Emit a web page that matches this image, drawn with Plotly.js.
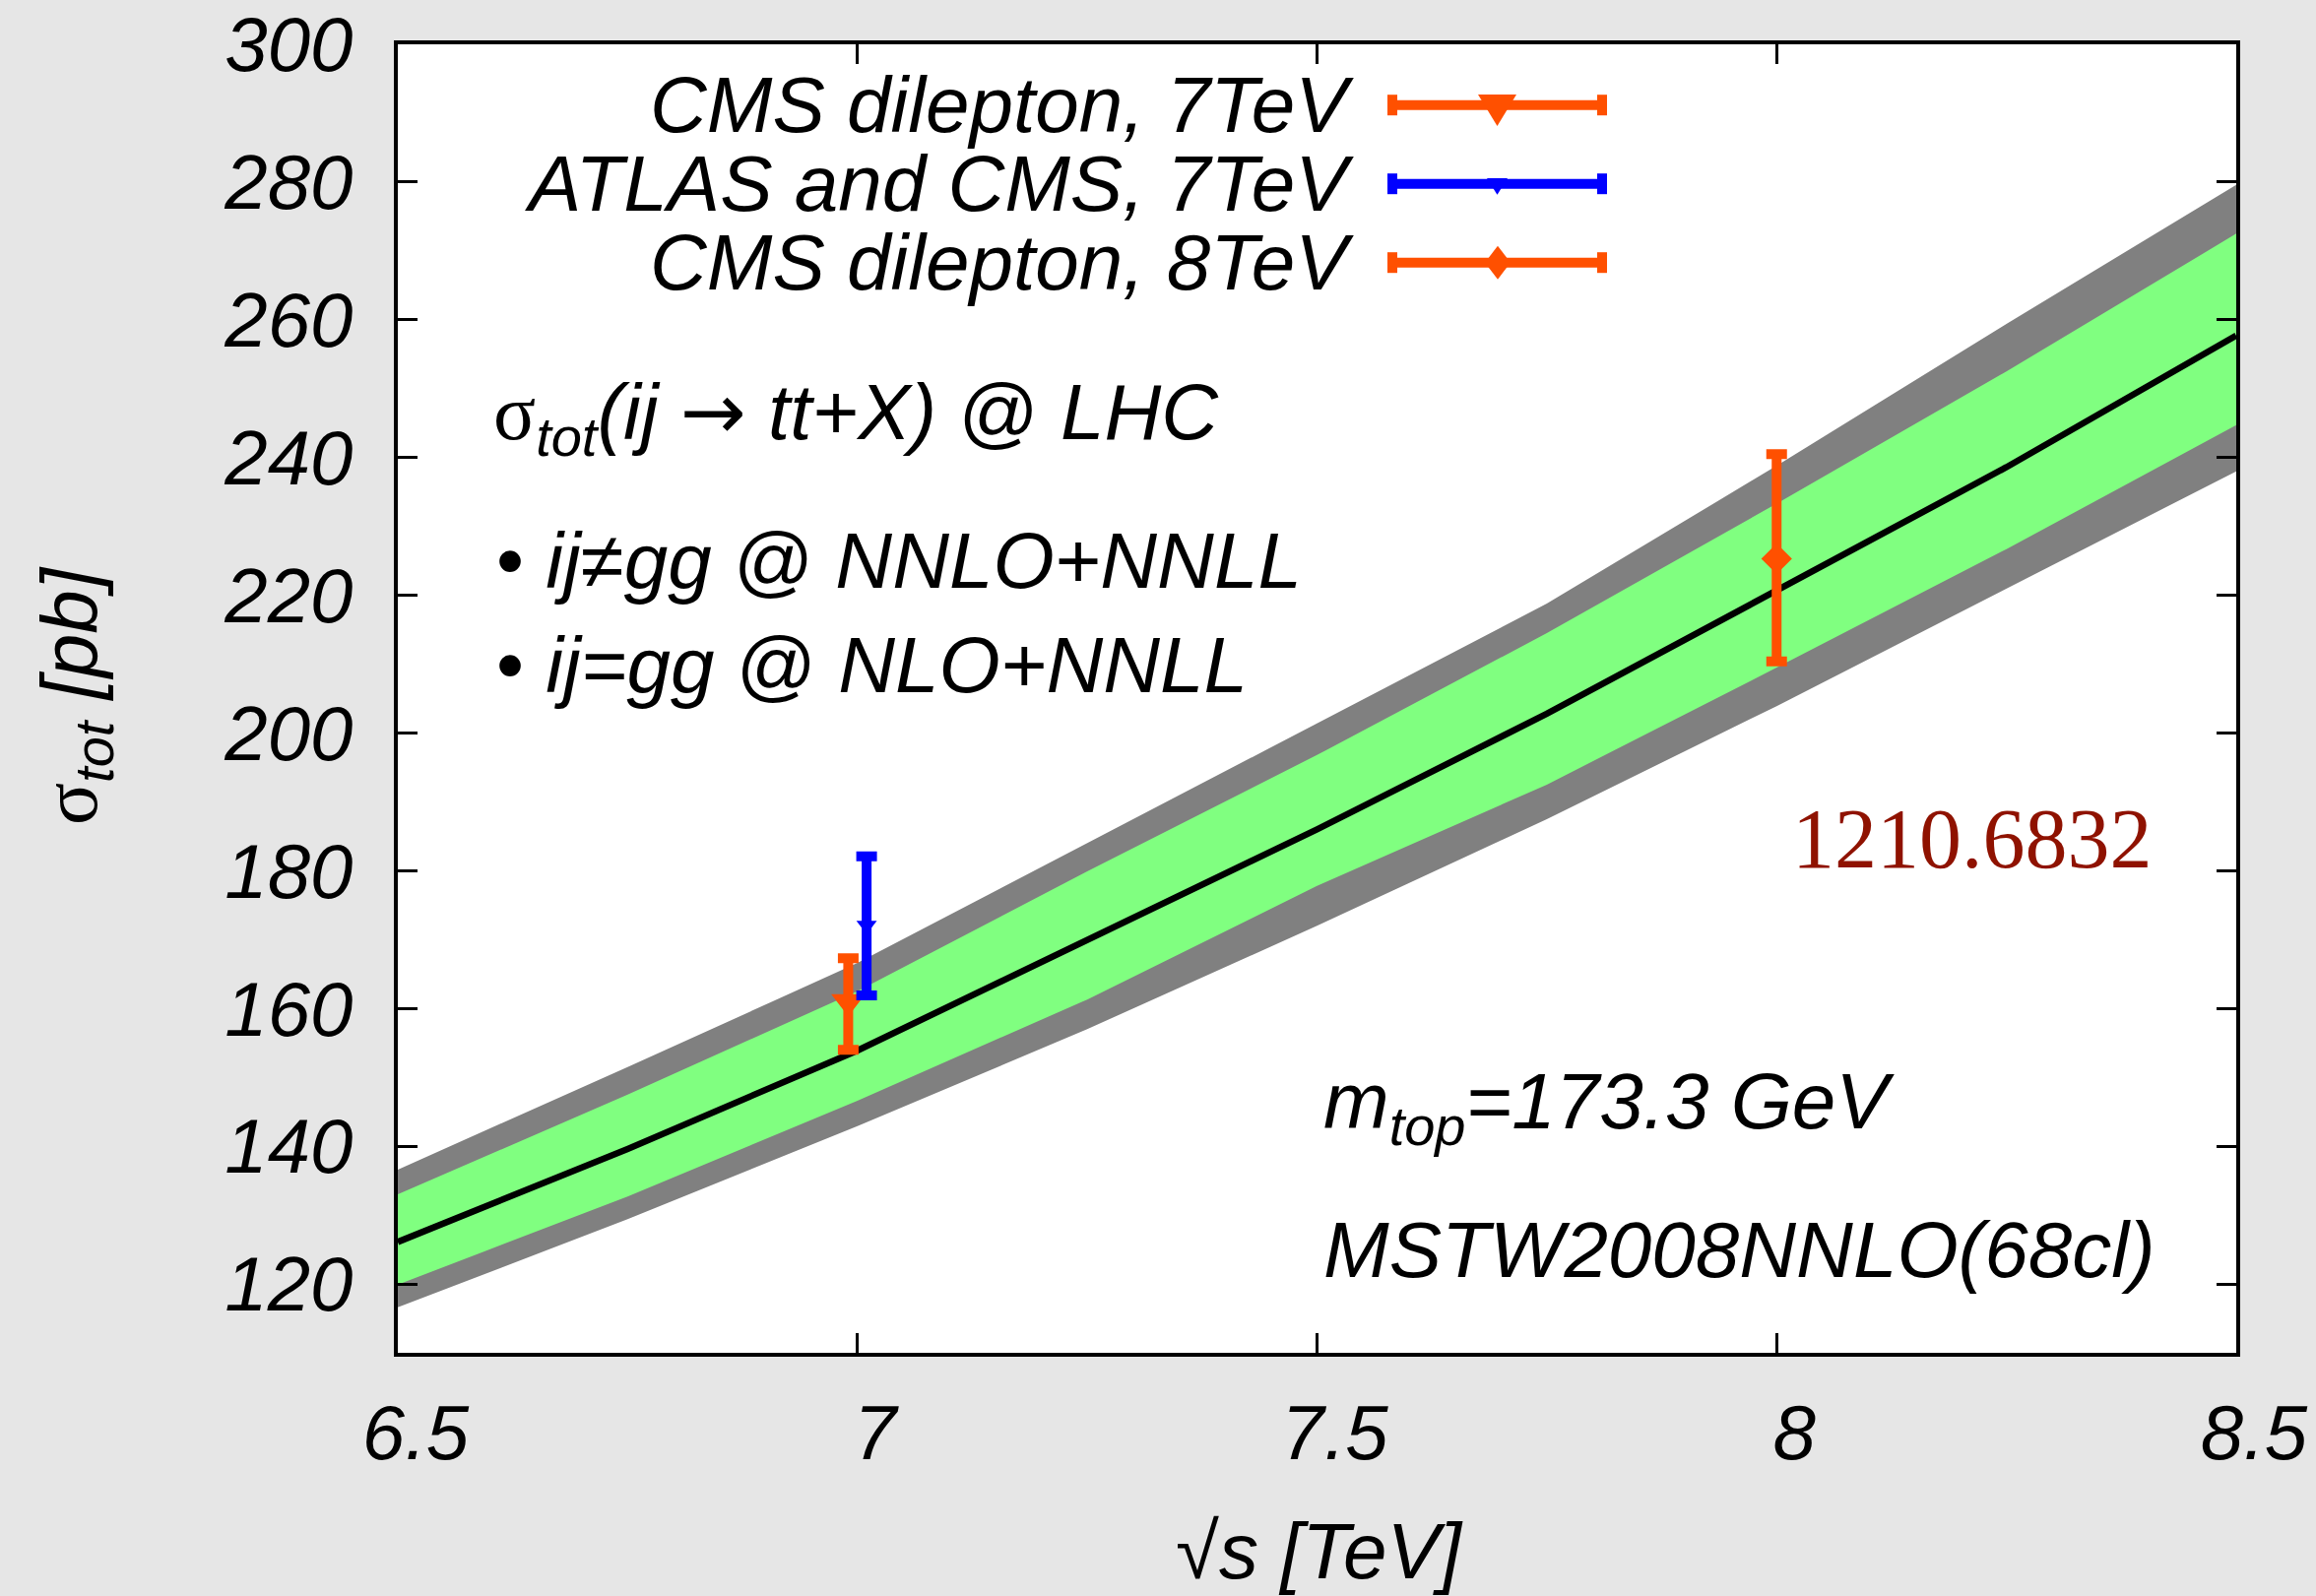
<!DOCTYPE html>
<html>
<head>
<meta charset="utf-8">
<script src="https://cdn.plot.ly/plotly-3.0.1.min.js"></script>
<style>html,body{margin:0;padding:0;background:#e6e6e6;}#chart{width:2352px;height:1621px;}</style>
</head>
<body>
<div id="chart"></div>
<script>
// ---- data ----
const sqrtS      = [6.5, 6.75, 7.0, 7.25, 7.5, 7.75, 8.0, 8.25, 8.5];
const central    = [126.1, 139.6, 153.9, 169.9, 186.0, 202.8, 220.8, 238.6, 257.7];
const greenUpper = [133.0, 147.5, 162.5, 179.9, 196.8, 214.5, 233.3, 252.5, 272.5];
const greenLower = [119.9, 132.7, 146.6, 161.3, 177.8, 192.5, 209.5, 226.7, 244.7];
const grayUpper  = [136.6, 151.5, 166.6, 184.0, 201.5, 218.8, 238.8, 259.4, 279.6];
const grayLower  = [116.6, 129.4, 142.9, 157.0, 172.0, 187.5, 203.9, 220.9, 238.0];

const measNames  = ['CMS dilepton, 7TeV', 'ATLAS and CMS, 7TeV', 'CMS dilepton, 8TeV'];
const measX      = [6.99, 7.01, 8.0];
const measY      = [161.0, 172.1, 225.3];
const measErrUp  = [6.3, 10.0, 15.2];
const measErrLo  = [7.0, 10.2, 14.9];

const xTickVals  = [6.5, 7, 7.5, 8, 8.5];
const xTickText  = ['6.5', '7', '7.5', '8', '8.5'];
const yTickVals  = [120, 140, 160, 180, 200, 220, 240, 260, 280, 300];

// ---- styling ----
const ORANGE = '#ff5000', BLUE = '#0000ff', GREEN = '#80ff80', GRAY = '#808080';
const FONT = 'Liberation Sans, Arial, Helvetica, sans-serif';
const SERIF = 'Liberation Serif, Times New Roman, serif';
const measColors  = [ORANGE, BLUE, ORANGE];
const measSymbols = ['triangle-down', 'triangle-down', 'diamond'];
const measSizes   = [30, 18, 24];

const L = 404, R = 2271, T = 45, B = 1374;
const W = R - L, H = B - T;
const px = x => (x - L) / W;
const py = y => (B - y) / H;

const traces = [
  {x: sqrtS, y: grayLower, mode: 'lines', line: {width: 0, color: GRAY}, hoverinfo: 'skip', showlegend: false},
  {x: sqrtS, y: grayUpper, mode: 'lines', line: {width: 0, color: GRAY}, fill: 'tonexty', fillcolor: GRAY, hoverinfo: 'skip', showlegend: false},
  {x: sqrtS, y: greenLower, mode: 'lines', line: {width: 0, color: GREEN}, hoverinfo: 'skip', showlegend: false},
  {x: sqrtS, y: greenUpper, mode: 'lines', line: {width: 0, color: GREEN}, fill: 'tonexty', fillcolor: GREEN, hoverinfo: 'skip', showlegend: false},
  {x: sqrtS, y: central, mode: 'lines', line: {width: 6.5, color: '#000000'}, showlegend: false}
];
[0, 2, 1].forEach(i => {
  traces.push({
    x: [measX[i]], y: [measY[i]], mode: 'markers', name: measNames[i], showlegend: false,
    marker: {symbol: measSymbols[i], size: measSizes[i], color: measColors[i], line: {width: 0}},
    error_y: {type: 'data', symmetric: false, array: [measErrUp[i]], arrayminus: [measErrLo[i]],
              color: measColors[i], thickness: 10, width: 10.5}
  });
});

// ---- hand-made key (text left of sample, as in the original) ----
const legendRowsY = [106.7, 186.7, 266.7];
const shapes = [];
const annotations = [];
legendRowsY.forEach((yc, i) => {
  const c = measColors[i];
  shapes.push({type: 'line', xref: 'paper', yref: 'paper', x0: px(1414), x1: px(1627), y0: py(yc), y1: py(yc), line: {color: c, width: 10}});
  shapes.push({type: 'rect', xref: 'paper', yref: 'paper', x0: px(1409), x1: px(1419), y0: py(yc - 10.5), y1: py(yc + 10.5), fillcolor: c, line: {width: 0}});
  shapes.push({type: 'rect', xref: 'paper', yref: 'paper', x0: px(1622), x1: px(1632), y0: py(yc - 10.5), y1: py(yc + 10.5), fillcolor: c, line: {width: 0}});
  let path;
  if (i === 0) path = `M${px(1501)},${py(yc - 10.7)} L${px(1540)},${py(yc - 10.7)} L${px(1520.5)},${py(yc + 21.3)} Z`;
  else if (i === 1) path = `M${px(1510)},${py(yc - 5.7)} L${px(1531)},${py(yc - 5.7)} L${px(1520.5)},${py(yc + 11)} Z`;
  else path = `M${px(1508)},${py(yc)} L${px(1521)},${py(yc - 17)} L${px(1534)},${py(yc)} L${px(1521)},${py(yc + 17)} Z`;
  shapes.push({type: 'path', xref: 'paper', yref: 'paper', path: path, fillcolor: c, line: {width: 0}});
  annotations.push({xref: 'paper', yref: 'paper', x: px(1377), y: py(yc), xanchor: 'right', yanchor: 'middle',
    text: measNames[i], showarrow: false, font: {family: FONT, size: 80, style: 'italic', color: '#000'}});
});

const sig = '<span style="font-family:Liberation Serif, serif;font-style:normal">σ</span>';
const up = s => '<span style="font-style:normal">' + s + '</span>';
const arrow = '<span style="font-family:DejaVu Sans, sans-serif;font-style:normal">→</span>';
const txt = (x, y, text, xanchor, extra) => Object.assign({xref: 'paper', yref: 'paper', x: px(x), y: py(y),
  xanchor: xanchor, yanchor: 'middle', text: text, showarrow: false,
  font: {family: FONT, size: 80, style: 'italic', color: '#000'}}, extra || {});

annotations.push(txt(499, 423, sig + '<sub>tot</sub>(ij ' + arrow + ' tt+X) ' + up('@') + ' LHC', 'left'));
annotations.push(txt(502, 569, up('•') + ' ij≠gg ' + up('@') + ' NNLO+NNLL', 'left'));
annotations.push(txt(502, 675, up('•') + ' ij=gg ' + up('@') + ' NLO+NNLL', 'left'));
annotations.push(txt(1342, 1124, 'm<sub>top</sub>=173.3 GeV', 'left'));
annotations.push(txt(1342, 1269, 'MSTW2008NNLO(68cl)', 'left'));
annotations.push(txt(2188, 852, '1210.6832', 'right', {font: {family: SERIF, size: 86, color: '#8f1200'}}));
// axis titles
annotations.push(txt(76, 707, sig + '<sub>tot</sub> [pb]', 'center', {textangle: -90}));
annotations.push(txt(1340, 1575, up('√') + 's [TeV]', 'center'));

const axisCommon = {
  showline: true, linecolor: '#000', linewidth: 4, mirror: 'ticks',
  ticks: 'inside', ticklen: 20, tickwidth: 3, tickcolor: '#000',
  showgrid: false, zeroline: false, fixedrange: true,
  tickfont: {family: FONT, size: 78, style: 'italic', color: '#000'}
};

const layout = {
  width: 2352, height: 1621,
  margin: {l: L, r: 2352 - R, t: T, b: 1621 - B, pad: 0},
  paper_bgcolor: '#e6e6e6', plot_bgcolor: '#ffffff',
  showlegend: false,
  xaxis: Object.assign({}, axisCommon, {range: [6.5, 8.5], tickmode: 'array', tickvals: xTickVals, ticktext: xTickText, ticklabelstandoff: 10, ticklabelshift: 18}),
  yaxis: Object.assign({}, axisCommon, {range: [110, 300], tickmode: 'array', tickvals: yTickVals, ticklabelstandoff: 26}),
  shapes: shapes,
  annotations: annotations
};

Plotly.newPlot('chart', traces, layout, {staticPlot: true, displayModeBar: false});
</script>
</body>
</html>
